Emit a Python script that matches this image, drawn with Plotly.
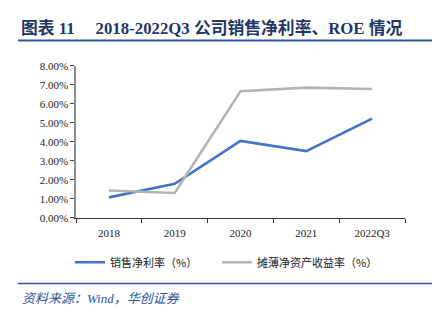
import plotly.graph_objects as go

categories = ["2018", "2019", "2020", "2021", "2022Q3"]
net_margin = [1.08, 1.79, 4.05, 3.51, 5.22]
roe_diluted = [1.44, 1.31, 6.66, 6.85, 6.78]
series_names = ["销售净利率（%）", "摊薄净资产收益率（%）"]
y_ticks = [0, 1, 2, 3, 4, 5, 6, 7, 8]

W, H = 442, 327
def px(x): return x / W
def py(y): return 1 - y / H

serif = "Liberation Serif, Times New Roman, Noto Sans CJK SC, serif"
cjk = "Noto Sans CJK SC, Liberation Serif, serif"

fig = go.Figure()
fig.add_trace(go.Scatter(x=categories, y=net_margin, mode="lines", name=series_names[0],
                         line=dict(color="#4472C4", width=2.6), legend="legend"))
fig.add_trace(go.Scatter(x=categories, y=roe_diluted, mode="lines", name=series_names[1],
                         line=dict(color="#B4B4B4", width=2.6), legend="legend2"))

fig.update_layout(
    width=W, height=H,
    margin=dict(l=0, r=0, t=0, b=0),
    paper_bgcolor="white", plot_bgcolor="white",
    xaxis=dict(domain=[px(76), px(405)], type="category", tickson="boundaries",
               range=[-0.5, len(categories) - 0.5],
               ticks="outside", ticklen=4, tickcolor="#333", showline=True, linecolor="#333",
               linewidth=1, showgrid=False, tickfont=dict(family=serif, size=11, color="#222"),
               ticklabelstandoff=5, anchor="y"),
    yaxis=dict(domain=[py(220), py(62)], range=[0, 8], tickvals=y_ticks,
               ticktext=[f"{v:.2f}%" for v in y_ticks],
               ticks="outside", ticklen=4, tickcolor="#444", showline=True, linecolor="#8C8C8C",
               linewidth=1.5, showgrid=False, zeroline=False,
               tickfont=dict(family=serif, size=11, color="#222")),
    legend=dict(orientation="h", x=px(70), y=py(251), xanchor="left", yanchor="top",
                font=dict(family=cjk, size=11, color="#222"), bgcolor="rgba(0,0,0,0)"),
    legend2=dict(orientation="h", x=px(217), y=py(251), xanchor="left", yanchor="top",
                 font=dict(family=cjk, size=11, color="#222"), bgcolor="rgba(0,0,0,0)"),
    showlegend=True,
)

# title
fig.add_annotation(xref="paper", yref="paper", x=px(19), y=py(22.5), xanchor="left", yanchor="middle",
                   text="<b>图表 11\u00a0\u00a0\u00a0\u00a0 2018-2022Q3 公司销售净利率、ROE 情况</b>", showarrow=False,
                   font=dict(family=serif, size=16.8, color="#1F3864"))
fig.add_shape(type="line", xref="paper", yref="paper", x0=px(18), x1=px(432), y0=py(35.7), y1=py(35.7),
              line=dict(color="#2E5597", width=2))
fig.add_shape(type="line", xref="paper", yref="paper", x0=px(18), x1=px(432), y0=py(288), y1=py(288),
              line=dict(color="#2E5597", width=1.5))
fig.add_annotation(xref="paper", yref="paper", x=px(20), y=py(304), xanchor="left", yanchor="middle",
                   text="<i>资料来源：Wind，华创证券</i>", showarrow=False,
                   font=dict(family=serif, size=13, color="#2E5597"))

fig.write_html("out.html")
